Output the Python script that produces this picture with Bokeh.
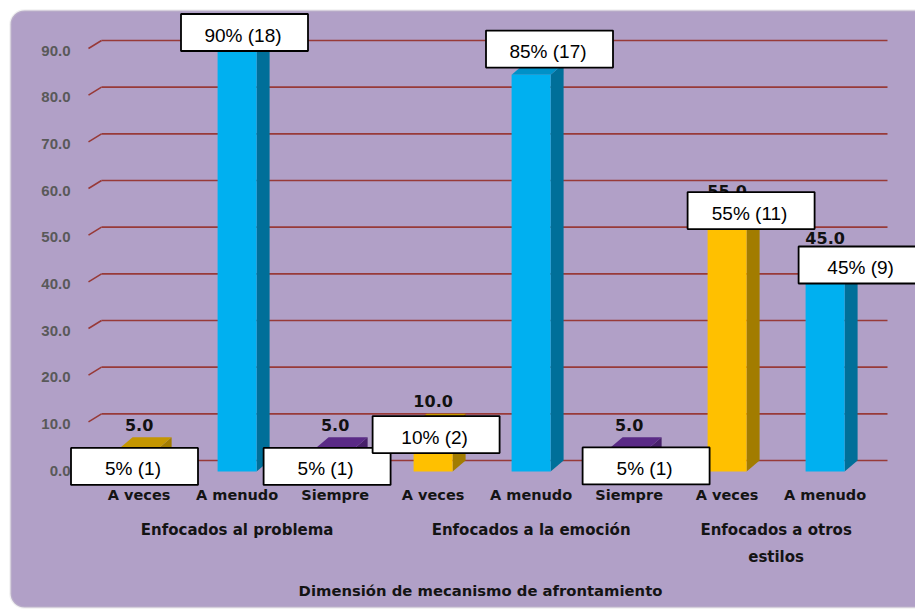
import numpy as np
from bokeh.plotting import figure
from bokeh.models import Range1d, BoxAnnotation
from bokeh.core.properties import value
from bokeh.embed import file_html
from bokeh.resources import INLINE

# ---------------- data ----------------
groups = ["Enfocados al problema", "Enfocados a la emoción", "Enfocados a otros\nestilos"]
subcats = ["A veces", "A menudo", "Siempre",
           "A veces", "A menudo", "Siempre",
           "A veces", "A menudo"]
group_index = [0, 0, 0, 1, 1, 1, 2, 2]
values = [5.0, 90.0, 5.0, 10.0, 85.0, 5.0, 55.0, 45.0]
counts = [1, 18, 1, 2, 17, 1, 11, 9]
y_ticks = [0, 10, 20, 30, 40, 50, 60, 70, 80, 90]
axis_title = "Dimensión de mecanismo de afrontamiento"

# ---------------- styles / layout ----------------
W, H = 915, 609
X0, STEP = 138.6, 98.0          # pixel of first bar centre, pixels between bars
Y0, UNIT = 460.0, 420.0 / 90.0  # pixel of value 0, pixels per unit
BAR_W, DEPTH_X, DEPTH_Y = 39, 13, 11

face = {"A veces": "#ffc000", "A menudo": "#00b0f0", "Siempre": "#7030a0"}
side = {"A veces": "#a27c00", "A menudo": "#006f99", "Siempre": "#47206a"}
topc = {"A veces": "#c49600", "A menudo": "#0091c8", "Siempre": "#5a2a86"}

# label box offsets from bar top (pixels, +y down)
LABEL_OFFSETS = [(-4.6, 29.3), (7.4, -8.0), (-8.0, 29.3), (3.0, 20.7),
                 (18.4, -14.8), (17.0, 28.8), (24.0, 6.7), (37.0, 14.5)]

def xd(px):
    return (px - X0) / STEP

def yd(py):
    return (Y0 - py) / UNIT

p = figure(width=W, height=H, output_backend="svg", toolbar_location=None,
           x_range=Range1d(xd(0), xd(W)), y_range=Range1d(yd(H), yd(0)),
           x_axis_location=None, y_axis_location=None,
           min_border=0, min_border_left=0, min_border_right=0,
           min_border_top=0, min_border_bottom=0)
p.outline_line_color = None
p.background_fill_color = "white"
p.border_fill_color = "white"
p.xgrid.visible = False
p.ygrid.visible = False

panel = BoxAnnotation(left=xd(10), right=xd(940), top=yd(10), bottom=yd(607),
                      fill_color="#b1a0c7", fill_alpha=1.0,
                      line_color="#d2d2d2", line_width=2.5,
                      border_radius=14, level="underlay")
p.add_layout(panel)

# grid lines on back wall with 3D side wall stub
gy = np.array(y_ticks, dtype=float)
p.segment(x0=[xd(101)] * len(gy), y0=gy, x1=[xd(887)] * len(gy), y1=gy,
          line_color="#983a38", line_width=1.6)
p.segment(x0=[xd(88)] * len(gy), y0=gy - 8 / UNIT, x1=[xd(101)] * len(gy), y1=gy,
          line_color="#983a38", line_width=1.6)

# y tick labels
p.text(x=[xd(70)] * len(gy), y=gy - 10 / UNIT, text=["%.1f" % t for t in y_ticks],
       text_align="right", text_baseline="middle",
       text_font=value("Liberation Sans"), text_font_style="bold",
       text_font_size="15px", text_color="#595959")

# 3D bars
xs = np.arange(len(values), dtype=float)
v = np.array(values)
hw = (BAR_W / 2) / STEP
dX = DEPTH_X / STEP
dY = DEPTH_Y / UNIT
fl, fr = xs - hw, xs + hw

side_xs = [[a, a + dX, a + dX, a] for a in fr]
side_ys = [[-dY, 0, val, val - dY] for val in v]
top_xs = [[l, r, r + dX, l + dX] for l, r in zip(fl, fr)]
top_ys = [[val - dY, val - dY, val, val] for val in v]

p.patches(xs=side_xs, ys=side_ys, fill_color=[side[s] for s in subcats], line_color=None)
p.patches(xs=top_xs, ys=top_ys, fill_color=[topc[s] for s in subcats], line_color=None)
p.quad(left=fl, right=fr, bottom=[-dY] * len(v), top=v - dY,
       fill_color=[face[s] for s in subcats], line_color=None)

# value labels
p.text(x=xs, y=v + 12.5 / UNIT, text=["%.1f" % val for val in values],
       text_align="center", text_baseline="middle",
       text_font=value("DejaVu Sans"), text_font_style="bold",
       text_font_size="16px", text_color="#111111")

# boxed percentage labels
bx = np.array([x + o[0] / STEP for x, o in zip(xs, LABEL_OFFSETS)])
by = np.array([val - o[1] / UNIT for val, o in zip(v, LABEL_OFFSETS)])
p.rect(x=bx, y=by, width=127, height=37, width_units="screen", height_units="screen",
       fill_color="white", line_color="black", line_width=1.8)
p.text(x=bx - 1.5 / STEP, y=by - 2.5 / UNIT,
       text=["%d%% (%d)" % (val, c) for val, c in zip(values, counts)],
       text_align="center", text_baseline="middle",
       text_font=value("Liberation Sans"), text_font_size="19px", text_color="black")

# category labels
p.text(x=xs, y=[yd(494)] * len(xs), text=subcats,
       text_align="center", text_baseline="middle",
       text_font=value("DejaVu Sans"), text_font_style="bold",
       text_font_size="14.5px", text_color="#141414")

gx = [np.mean([x for x, g in zip(xs, group_index) if g == k]) for k in range(len(groups))]
p.text(x=gx, y=[yd(520)] * len(groups), text=groups,
       text_align="center", text_baseline="top", text_line_height=1.5,
       text_font=value("DejaVu Sans"), text_font_style="bold",
       text_font_size="15px", text_color="#141414")

p.text(x=[xd(480)], y=[yd(590)], text=[axis_title],
       text_align="center", text_baseline="middle",
       text_font=value("DejaVu Sans"), text_font_style="bold",
       text_font_size="14.8px", text_color="#141414")

open("out.html", "w").write(file_html(p, INLINE))
